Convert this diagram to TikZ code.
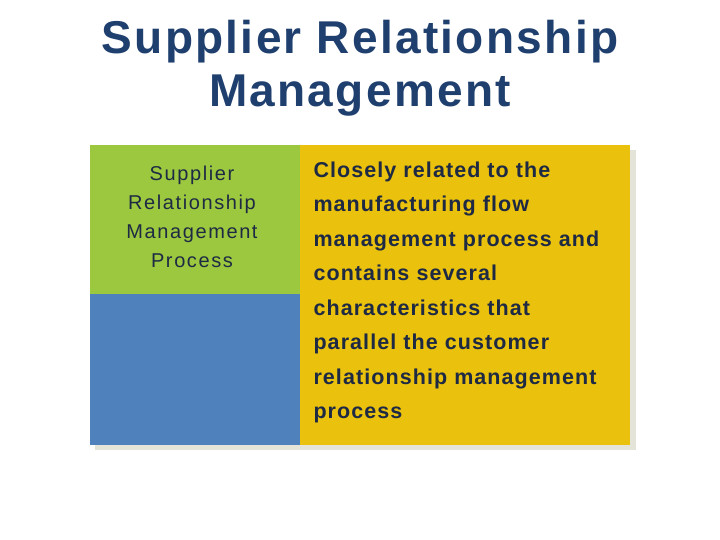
\documentclass[tikz,border=0pt]{standalone}
\usepackage{fontspec}
\setmainfont{Liberation Sans}
\newfontfamily\wide[LetterSpace=5]{Liberation Sans}
\newfontfamily\wider[LetterSpace=8]{Liberation Sans}
\definecolor{ttl}{HTML}{1F3F6E}
\definecolor{grn}{HTML}{9CC83F}
\definecolor{blu}{HTML}{4F81BD}
\definecolor{yel}{HTML}{EAC10D}
\definecolor{txt}{HTML}{1E2A44}
\definecolor{shd}{HTML}{E4E4D8}
\begin{document}
\begin{tikzpicture}[x=1pt,y=1pt,
  panel/.style={draw=none,inner sep=0pt,outer sep=0pt,anchor=north west},
  ttltext/.style={font=\wide\fontsize{46}{53}\selectfont\bfseries,text=ttl,align=center},
  lefttext/.style={font=\wider\fontsize{20}{29}\selectfont,text=txt,align=center},
  righttext/.style={font=\wide\fontsize{21.5}{34.5}\selectfont\bfseries,text=txt,align=left,anchor=north west}]
\useasboundingbox (0,0) rectangle (720,540);
\fill[shd] (95,540-150) rectangle (636,540-450);
\node[panel,fill=grn,minimum width=210,minimum height=149] (g) at (90,540-145) {};
\node[panel,fill=blu,minimum width=210,minimum height=151] (b) at (90,540-294) {};
\node[panel,fill=yel,minimum width=330,minimum height=300] (y) at (300,540-145) {};
\node[ttltext] (t) at (360,540-68) {Supplier Relationship\\Management};
\node[lefttext,anchor=north] (lt) at (192,540-162) {Supplier\\Relationship\\Management\\Process};
\node[righttext] (rt) at (310,540-158) {Closely related to the\\manufacturing flow\\management process and\\contains several\\characteristics that\\parallel the customer\\relationship management\\process};
\end{tikzpicture}
\end{document}
